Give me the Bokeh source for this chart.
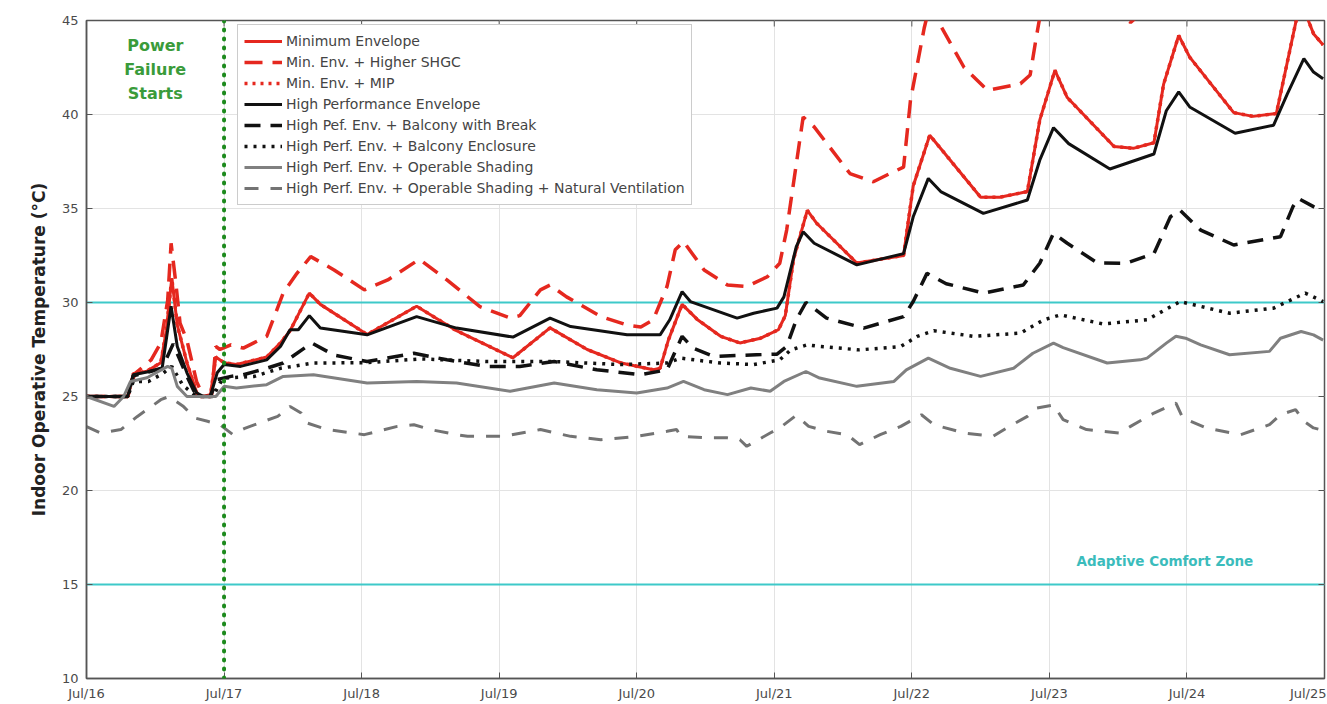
import math
from bokeh.plotting import figure
from bokeh.models import Span, Label, Legend, LegendItem, FixedTicker, Range1d
from bokeh.embed import file_html
from bokeh.resources import INLINE

# ---------------- data ----------------
tick_days = [0, 1, 2, 3, 4, 5, 6, 7, 8, 9]
tick_labels = ["Jul/16", "Jul/17", "Jul/18", "Jul/19", "Jul/20",
               "Jul/21", "Jul/22", "Jul/23", "Jul/24", "Jul/25"]
y_ticks = [10, 15, 20, 25, 30, 35, 40, 45]

series_names = [
    "Minimum Envelope",
    "Min. Env. + Higher SHGC",
    "Min. Env. + MIP",
    "High Performance Envelope",
    "High Pef. Env. + Balcony with Break",
    "High Perf. Env. + Balcony Enclosure",
    "High Perf. Env. + Operable Shading",
    "High Perf. Env. + Operable Shading + Natural Ventilation",
]

min_env_day = [0, 0.30, 0.34, 0.44, 0.54, 0.58, 0.62, 0.66, 0.73, 0.81, 0.90, 0.94, 1.0, 1.09,
               1.31, 1.41, 1.48, 1.55, 1.62, 1.70, 2.04, 2.40, 2.69, 3.10, 3.37, 3.64, 3.88,
               4.12, 4.17, 4.23, 4.33, 4.44, 4.61, 4.75, 4.90, 5.03, 5.08, 5.14, 5.24, 5.31,
               5.60, 5.94, 6.01, 6.13, 6.22, 6.50, 6.64, 6.84, 6.93, 7.04, 7.13, 7.47, 7.61,
               7.76, 7.83, 7.94, 8.02, 8.34, 8.48, 8.65, 8.80, 8.85, 8.92, 8.99]
min_env_temp = [25.0, 25.0, 26.2, 26.35, 26.8, 28.5, 31.3, 28.8, 26.8, 25.0, 25.0, 27.1, 26.8, 26.7,
                27.1, 27.85, 28.5, 29.5, 30.5, 29.9, 28.3, 29.8, 28.5, 27.06, 28.65, 27.5, 26.8,
                26.42, 26.5, 28.0, 29.9, 29.1, 28.2, 27.85, 28.1, 28.55, 29.3, 32.3, 34.9, 34.2,
                32.1, 32.5, 36.2, 38.9, 38.1, 35.6, 35.6, 35.9, 39.7, 42.35, 40.9, 38.3, 38.2,
                38.5, 41.6, 44.2, 43.05, 40.1, 39.9, 40.05, 45.2, 45.6, 44.3, 43.7]

shgc_day = [0, 0.30, 0.35, 0.47, 0.54, 0.59, 0.615, 0.65, 0.68, 0.73, 0.80, 0.85, 0.91, 0.94,
            0.97, 1.05, 1.14, 1.31, 1.43, 1.53, 1.63, 1.80, 2.02, 2.19, 2.42, 2.62, 2.86, 3.08,
            3.15, 3.30, 3.37, 3.49, 3.74, 3.93, 4.03, 4.12, 4.22, 4.28, 4.34, 4.49, 4.66, 4.80,
            4.95, 5.04, 5.09, 5.21, 5.29, 5.55, 5.72, 5.84, 5.94, 5.99, 6.09, 6.13, 6.18, 6.38,
            6.55, 6.79, 6.86, 6.90, 6.95, 7.05, 7.25, 7.45, 7.59, 7.70, 7.95, 8.30, 8.60, 8.85, 9.0]
shgc_temp = [25.0, 25.0, 26.2, 26.95, 27.85, 30.1, 33.15, 31.0, 28.9, 28.0, 25.8, 25.0, 25.1, 27.66,
             27.5, 27.75, 27.57, 28.2, 30.5, 31.55, 32.44, 31.73, 30.67, 31.2, 32.3, 31.2, 29.78, 29.17,
             29.3, 30.67, 30.93, 30.3, 29.25, 28.8, 28.7, 29.08, 30.85, 32.8, 33.24, 31.73, 30.93, 30.85,
             31.37, 32.09, 33.85, 39.87, 39.34, 36.86, 36.42, 36.86, 37.2, 40.75, 44.6, 45.8, 45.1, 42.5,
             41.28, 41.64, 42.1, 43.9, 46.0, 49.0, 47.0, 45.6, 44.9, 45.6, 50.5, 47.5, 47.0, 52.0, 51.0]

mip_day = [0, 0.30, 0.34, 0.44, 0.54, 0.58, 0.62, 0.66, 0.73, 0.81, 0.90, 0.94, 1.0, 1.09,
           1.31, 1.41, 1.48, 1.55, 1.62, 1.70, 2.04, 2.40, 2.69, 3.10, 3.37, 3.64, 3.88,
           4.12, 4.17, 4.23, 4.33, 4.44, 4.61, 4.75, 4.90, 5.03, 5.08, 5.14, 5.24, 5.31,
           5.60, 5.94, 6.01, 6.13, 6.22, 6.50, 6.64, 6.84, 6.93, 7.04, 7.13, 7.47, 7.61,
           7.76, 7.83, 7.94, 8.02, 8.34, 8.48, 8.65, 8.80, 8.85, 8.92, 8.99]
mip_temp = [25.0, 25.0, 26.2, 26.35, 26.8, 28.5, 31.3, 28.8, 26.8, 25.0, 25.0, 27.1, 26.8, 26.7,
            27.1, 27.85, 28.5, 29.5, 30.5, 29.9, 28.3, 29.8, 28.5, 27.06, 28.65, 27.5, 26.8,
            26.42, 26.5, 28.0, 29.9, 29.1, 28.2, 27.85, 28.1, 28.55, 29.3, 32.3, 34.9, 34.2,
            32.1, 32.5, 36.2, 38.9, 38.1, 35.6, 35.6, 35.9, 39.7, 42.35, 40.9, 38.3, 38.2,
            38.5, 41.6, 44.2, 43.05, 40.1, 39.9, 40.05, 45.2, 45.6, 44.3, 43.7]

hp_env_day = [0, 0.30, 0.34, 0.44, 0.55, 0.615, 0.66, 0.73, 0.80, 0.85, 0.90, 0.95, 1.0, 1.12,
              1.31, 1.41, 1.48, 1.54, 1.62, 1.70, 2.04, 2.40, 2.69, 3.10, 3.37, 3.52, 3.93,
              4.17, 4.24, 4.33, 4.39, 4.73, 4.85, 5.02, 5.07, 5.16, 5.21, 5.29, 5.60, 5.94,
              6.01, 6.12, 6.21, 6.52, 6.84, 6.93, 7.03, 7.14, 7.44, 7.76, 7.85, 7.94, 8.02,
              8.35, 8.63, 8.73, 8.85, 8.92, 8.99]
hp_env_temp = [25.0, 25.0, 26.16, 26.3, 26.5, 29.8, 27.66, 26.26, 25.2, 25.0, 25.0, 26.26, 26.7, 26.6,
               26.95, 27.66, 28.55, 28.55, 29.3, 28.64, 28.28, 29.25, 28.64, 28.16, 29.17, 28.72, 28.28,
               28.28, 29.08, 30.58, 30.05, 29.17, 29.43, 29.7, 30.3, 32.97, 33.76, 33.15, 32.0, 32.6,
               34.56, 36.6, 35.9, 34.74, 35.45, 37.57, 39.3, 38.45, 37.1, 37.9, 40.2, 41.2, 40.4,
               39.0, 39.43, 41.1, 42.97, 42.26, 41.9]

balc_break_day = [0, 0.30, 0.34, 0.45, 0.55, 0.63, 0.73, 0.78, 0.83, 0.90, 0.95, 1.05, 1.14, 1.31,
                  1.43, 1.60, 1.64, 1.80, 2.04, 2.38, 2.62, 2.91, 3.15, 3.40, 3.71, 4.03, 4.22,
                  4.33, 4.41, 4.56, 4.87, 5.02, 5.09, 5.16, 5.23, 5.38, 5.65, 5.94, 6.01, 6.11,
                  6.25, 6.52, 6.81, 6.93, 7.03, 7.13, 7.35, 7.56, 7.76, 7.88, 7.95, 8.10, 8.34,
                  8.68, 8.77, 8.81, 8.92, 8.99]
balc_break_temp = [25.0, 25.0, 26.1, 26.3, 26.5, 27.8, 26.07, 25.3, 25.0, 25.0, 25.9, 26.07, 26.16, 26.5,
                   26.78, 27.66, 27.84, 27.2, 26.86, 27.3, 26.95, 26.6, 26.6, 26.86, 26.42, 26.16, 26.42,
                   28.2, 27.57, 27.13, 27.22, 27.25, 27.66, 29.08, 30.0, 29.17, 28.64, 29.25, 30.05, 31.55,
                   31.0, 30.5, 30.93, 32.09, 33.68, 33.15, 32.1, 32.09, 32.6, 34.56, 34.9, 33.85, 33.06,
                   33.5, 35.09, 35.53, 35.1, 34.83]

balc_encl_day = [0, 0.30, 0.34, 0.45, 0.55, 0.62, 0.70, 0.80, 0.92, 0.97, 1.0, 1.22, 1.41, 1.65,
                 2.04, 2.43, 2.91, 3.40, 3.88, 4.22, 4.32, 4.61, 4.85, 5.04, 5.12, 5.24, 5.33,
                 5.62, 5.92, 6.04, 6.16, 6.45, 6.79, 6.96, 7.08, 7.39, 7.71, 7.95, 8.31, 8.63,
                 8.86, 8.99]
balc_encl_temp = [25.0, 25.0, 25.8, 25.8, 26.2, 26.6, 25.6, 25.0, 25.0, 25.7, 25.98, 26.07, 26.5, 26.78,
                  26.8, 27.0, 26.86, 26.86, 26.7, 26.78, 27.04, 26.78, 26.7, 26.95, 27.48, 27.75, 27.66,
                  27.48, 27.66, 28.2, 28.5, 28.2, 28.37, 29.08, 29.34, 28.86, 29.08, 30.05, 29.43, 29.7,
                  30.5, 30.05]

shading_day = [0, 0.20, 0.27, 0.32, 0.44, 0.59, 0.62, 0.66, 0.73, 0.94, 1.0, 1.09, 1.31, 1.43,
               1.65, 2.04, 2.40, 2.69, 3.08, 3.40, 3.71, 4.00, 4.22, 4.34, 4.49, 4.66, 4.83,
               4.97, 5.07, 5.23, 5.33, 5.60, 5.87, 5.96, 6.12, 6.28, 6.50, 6.74, 6.88, 7.03,
               7.10, 7.42, 7.66, 7.71, 7.85, 7.92, 7.99, 8.10, 8.31, 8.60, 8.68, 8.83, 8.92, 8.99]
shading_temp = [25.0, 24.47, 25.0, 25.8, 26.0, 26.6, 26.5, 25.54, 25.0, 25.0, 25.54, 25.45, 25.63, 26.07,
                26.16, 25.72, 25.8, 25.72, 25.28, 25.72, 25.36, 25.19, 25.45, 25.8, 25.36, 25.1, 25.45,
                25.28, 25.8, 26.33, 25.98, 25.54, 25.8, 26.42, 27.04, 26.5, 26.07, 26.5, 27.3, 27.84,
                27.6, 26.78, 26.95, 27.04, 27.84, 28.2, 28.1, 27.75, 27.22, 27.4, 28.1, 28.46, 28.28, 28.0]

natvent_day = [0, 0.10, 0.25, 0.37, 0.49, 0.54, 0.60, 0.70, 0.79, 0.88, 0.97, 1.06, 1.15, 1.29,
               1.39, 1.48, 1.56, 1.60, 1.75, 2.02, 2.26, 2.38, 2.50, 2.69, 2.77, 3.03, 3.30,
               3.52, 3.74, 4.00, 4.22, 4.29, 4.32, 4.51, 4.66, 4.75, 4.80, 4.97, 5.04, 5.16,
               5.25, 5.38, 5.53, 5.62, 5.77, 5.92, 6.07, 6.16, 6.38, 6.59, 6.69, 6.84, 6.91,
               7.03, 7.10, 7.27, 7.51, 7.59, 7.76, 7.92, 7.97, 8.14, 8.39, 8.60, 8.68, 8.79,
               8.85, 8.92, 8.99]
natvent_temp = [23.4, 23.06, 23.24, 23.94, 24.56, 24.83, 25.0, 24.5, 23.85, 23.68, 23.5, 23.0, 23.3, 23.68,
                23.94, 24.47, 24.12, 23.6, 23.24, 22.97, 23.41, 23.5, 23.24, 22.97, 22.88, 22.88, 23.24,
                22.88, 22.7, 22.88, 23.15, 23.24, 22.88, 22.8, 22.8, 22.7, 22.35, 23.06, 23.33, 24.0,
                23.41, 23.15, 22.97, 22.44, 22.97, 23.41, 24.03, 23.5, 23.06, 22.88, 23.33, 23.94, 24.39,
                24.55, 23.77, 23.24, 23.06, 23.41, 24.12, 24.65, 23.85, 23.33, 22.97, 23.5, 24.03, 24.3,
                23.68, 23.33, 23.2]

power_failure_day = 1
comfort_limits = [30, 15]
power_text = ["Power", "Failure", "Starts"]

# ---------------- styling ----------------
FONT = "DejaVu Sans"
RED = "#e5281f"
BLACK = "#111111"
GRAY = "#808080"
GRAY_D = "#737373"
CYAN = "#3ec9c9"
GREEN_LINE = "#1d8a1d"
GREEN_TXT = "#3a9b3a"
AX = "#555555"

x0, x1 = tick_days[0], tick_days[-1]
y0, y1 = y_ticks[0], y_ticks[-1]

p = figure(width=1326, height=703, output_backend="svg", toolbar_location=None,
           x_range=Range1d(x0, x1), y_range=Range1d(y0, y1),
           min_border_left=86, min_border_right=2, min_border_top=20, min_border_bottom=23,
           background_fill_color="white", border_fill_color="white")

p.xaxis.ticker = FixedTicker(ticks=tick_days)
p.xaxis.major_label_overrides = {d: l for d, l in zip(tick_days, tick_labels)}
p.yaxis.ticker = FixedTicker(ticks=y_ticks)
for ax in [p.xaxis[0], p.yaxis[0]]:
    ax.major_tick_in = 6
    ax.major_tick_out = 0
    ax.minor_tick_line_color = None
    ax.axis_line_color = AX
    ax.axis_line_width = 1.5
    ax.major_tick_line_color = AX
    ax.major_label_text_font = FONT
    ax.major_label_text_font_size = "13px"
    ax.major_label_text_color = "#4a4a4a"
p.xaxis.major_label_standoff = 7
p.yaxis.major_label_standoff = 8
p.yaxis.axis_label = "Indoor Operative Temperature (°C)"
p.yaxis.axis_label_text_font = FONT
p.yaxis.axis_label_text_font_size = "17px"
p.yaxis.axis_label_text_font_style = "bold"
p.yaxis.axis_label_text_color = "#222222"
p.yaxis.axis_label_standoff = 10

p.grid.grid_line_color = "#e3e3e3"
p.grid.grid_line_width = 1
p.outline_line_color = AX
p.outline_line_width = 1.5

# inward tick marks on the top and right edges of the box
p.ray(x=tick_days, y=[y1] * len(tick_days), length=6, angle=-math.pi / 2,
      length_units="screen", line_color=AX, line_width=1)
p.ray(x=[x1] * len(y_ticks), y=y_ticks, length=6, angle=math.pi,
      length_units="screen", line_color=AX, line_width=1)

for lim in comfort_limits:
    p.add_layout(Span(location=lim, dimension="width", line_color=CYAN, line_width=2,
                      level="underlay"))

r1 = p.line(min_env_day, min_env_temp, line_color=RED, line_width=3)
r2 = p.line(shgc_day, shgc_temp, line_color=RED, line_width=3.5, line_dash="18 10")
r3 = p.line(mip_day, mip_temp, line_color=RED, line_width=3.5, line_dash="3 5")
r4 = p.line(hp_env_day, hp_env_temp, line_color=BLACK, line_width=3)
r5 = p.line(balc_break_day, balc_break_temp, line_color=BLACK, line_width=3.5, line_dash="16 10")
r6 = p.line(balc_encl_day, balc_encl_temp, line_color=BLACK, line_width=3.5, line_dash="3 6")
r7 = p.line(shading_day, shading_temp, line_color=GRAY, line_width=3)
r8 = p.line(natvent_day, natvent_temp, line_color=GRAY_D, line_width=3, line_dash="14 12")
renderers = [r1, r2, r3, r4, r5, r6, r7, r8]

p.add_layout(Span(location=power_failure_day, dimension="height", line_color=GREEN_LINE,
                  line_width=4, line_dash="1 8", line_cap="round"))

for txt, ty in zip(power_text, [43.68, 42.42, 41.1]):
    p.add_layout(Label(x=0.5, y=ty, text=txt, text_align="center", text_baseline="middle",
                       text_font=FONT, text_font_size="16px", text_font_style="bold",
                       text_color=GREEN_TXT))
p.add_layout(Label(x=7.84, y=16.26, text="Adaptive Comfort Zone", text_align="center",
                   text_baseline="middle", text_font=FONT, text_font_size="13.5px",
                   text_font_style="bold", text_color="#3bbcbc"))

legend = Legend(items=[LegendItem(label=n, renderers=[r]) for n, r in zip(series_names, renderers)],
                location=(151, 473), label_text_font=FONT, label_text_font_size="14px",
                label_text_color="#444444", glyph_width=38, glyph_height=20, label_height=20,
                spacing=1, padding=6, margin=0, label_standoff=4,
                border_line_color="#999999", border_line_width=1.5,
                background_fill_color="white", background_fill_alpha=1.0)
p.add_layout(legend)

open("out.html", "w").write(file_html(p, INLINE))
